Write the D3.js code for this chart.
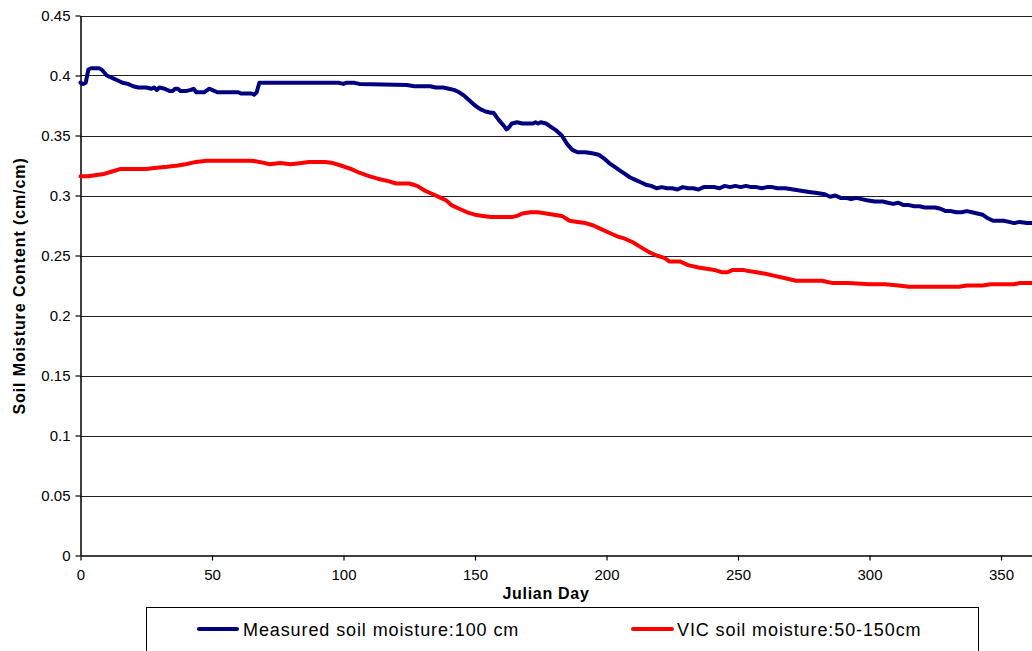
<!DOCTYPE html>
<html>
<head>
<meta charset="utf-8">
<script src="https://cdn.jsdelivr.net/npm/d3@7"></script>
<style>
  html, body { margin: 0; padding: 0; background: #fff; overflow: hidden; }
  svg { display: block; font-family: "Liberation Sans", Arial, sans-serif; }
</style>
</head>
<body>
<svg id="chart" width="1032" height="651"></svg>
<script>
// ---- Data ----
const measuredDays = [0,1,2,3,4,7,8,10,12,14,16,18,20,22,25,27,28,29,30,32,34,35,36,37,38,40,42,43,44,47,49,50,52,60,61,65,66,67,68,98,100,101,104,106,124,127,133,135,138,140,142,144,146,148,150,152,154,156,157,159,161,162,163,164,166,168,170,172,173,174,175,177,179,181,183,185,187,189,192,195,197,199,201,203,205,207,209,211,213,215,217,219,221,223,225,227,229,231,233,235,237,239,241,243,245,247,249,251,253,255,257,259,261,263,265,268,271,274,277,280,283,285,287,289,291,293,295,297,299,302,305,307,309,311,313,315,317,319,321,323,325,327,329,331,333,335,337,339,341,343,345,347,349,351,353,355,357,360,365];
const measuredValues = [0.394,0.393,0.394,0.405,0.406,0.406,0.405,0.400,0.398,0.396,0.394,0.393,0.391,0.390,0.390,0.389,0.390,0.388,0.390,0.389,0.387,0.387,0.389,0.389,0.387,0.387,0.388,0.389,0.386,0.386,0.389,0.388,0.386,0.386,0.385,0.385,0.384,0.386,0.394,0.394,0.393,0.394,0.394,0.393,0.392,0.391,0.391,0.390,0.390,0.389,0.388,0.386,0.383,0.379,0.375,0.372,0.370,0.369,0.369,0.363,0.358,0.355,0.357,0.360,0.361,0.360,0.360,0.360,0.361,0.360,0.361,0.360,0.357,0.354,0.350,0.343,0.338,0.336,0.336,0.335,0.334,0.331,0.327,0.324,0.321,0.318,0.315,0.313,0.311,0.309,0.308,0.306,0.307,0.306,0.306,0.305,0.307,0.306,0.306,0.305,0.307,0.307,0.307,0.306,0.308,0.307,0.308,0.307,0.308,0.307,0.307,0.306,0.307,0.307,0.306,0.306,0.305,0.304,0.303,0.302,0.301,0.299,0.300,0.298,0.298,0.297,0.298,0.297,0.296,0.295,0.295,0.294,0.293,0.294,0.292,0.292,0.291,0.291,0.290,0.290,0.290,0.289,0.287,0.287,0.286,0.286,0.287,0.286,0.285,0.284,0.281,0.279,0.279,0.279,0.278,0.277,0.278,0.277,0.277];

const vicDays = [0,3,6,9,12,15,25,28,33,37,40,44,48,65,68,72,76,80,84,87,93,96,99,103,106,110,113,117,120,125,128,131,134,137,139,141,144,147,150,153,156,159,164,166,168,171,174,177,180,183,186,189,192,195,198,201,204,207,210,213,216,219,222,224,228,231,235,238,241,244,246,248,252,254,257,260,264,268,272,276,282,286,292,300,306,311,315,334,337,343,346,355,357,365];
const vicValues = [0.316,0.316,0.317,0.318,0.320,0.322,0.322,0.323,0.324,0.325,0.326,0.328,0.329,0.329,0.328,0.326,0.327,0.326,0.327,0.328,0.328,0.327,0.325,0.322,0.319,0.316,0.314,0.312,0.310,0.310,0.308,0.304,0.301,0.298,0.296,0.292,0.289,0.286,0.284,0.283,0.282,0.282,0.282,0.283,0.285,0.286,0.286,0.285,0.284,0.283,0.279,0.278,0.277,0.275,0.272,0.269,0.266,0.264,0.261,0.257,0.253,0.250,0.248,0.245,0.245,0.242,0.240,0.239,0.238,0.236,0.236,0.238,0.238,0.237,0.236,0.235,0.233,0.231,0.229,0.229,0.229,0.227,0.227,0.226,0.226,0.225,0.224,0.224,0.225,0.225,0.226,0.226,0.227,0.227];

const xTicks = [0,50,100,150,200,250,300,350];
const yTicks = [0,0.05,0.1,0.15,0.2,0.25,0.3,0.35,0.4,0.45];
const seriesNames = ["Measured soil moisture:100 cm", "VIC soil moisture:50-150cm"];
const seriesColors = ["#000080", "#ff0000"];
const xTitle = "Julian Day";
const yTitle = "Soil Moisture Content (cm/cm)";

// ---- Layout ----
const svg = d3.select("#chart");
const plotLeft = 80.5, plotTop = 15.5, plotBottom = 555.5;
const x = d3.scaleLinear().domain([0, 365]).range([plotLeft, plotLeft + 365 * 2.63]);
const y = d3.scaleLinear().domain([0, 0.45]).range([plotBottom, plotTop]);
const plotRight = x(365);

// gridlines
svg.append("g")
  .selectAll("line").data(yTicks.filter(d => d > 0)).join("line")
  .attr("x1", plotLeft).attr("x2", plotRight)
  .attr("y1", d => Math.round(y(d)) + 0.5).attr("y2", d => Math.round(y(d)) + 0.5)
  .attr("stroke", "#222").attr("stroke-width", 1);

// axes
const xAxis = d3.axisBottom(x).tickValues(xTicks).tickFormat(d3.format("d")).tickSizeInner(5).tickSizeOuter(0).tickPadding(9);
const yAxis = d3.axisLeft(y).tickValues(yTicks).tickFormat(d => d === 0 ? "0" : String(d)).tickSizeInner(5).tickSizeOuter(0).tickPadding(5);

const gx = svg.append("g").attr("transform", `translate(0,${plotBottom})`).call(xAxis);
const gy = svg.append("g").attr("transform", `translate(${plotLeft},0)`).call(yAxis);
[gx, gy].forEach(g => {
  g.select(".domain").attr("stroke", "#000").attr("stroke-width", 1.5);
  g.selectAll(".tick line").attr("stroke", "#000").attr("stroke-width", 1.2);
  g.selectAll(".tick text").attr("font-size", 15).attr("fill", "#000")
    .attr("font-family", "'Liberation Sans', Arial, sans-serif");
});

// lines
const line = d3.line().x(d => x(d[0])).y(d => y(d[1])).curve(d3.curveLinear);
const measured = measuredDays.map((d, i) => [d, measuredValues[i]]);
const vic = vicDays.map((d, i) => [d, vicValues[i]]);

svg.append("path").datum(vic)
  .attr("fill", "none").attr("stroke", seriesColors[1]).attr("stroke-width", 4)
  .attr("stroke-linejoin", "round").attr("stroke-linecap", "round").attr("d", line);
svg.append("path").datum(measured)
  .attr("fill", "none").attr("stroke", seriesColors[0]).attr("stroke-width", 4)
  .attr("stroke-linejoin", "round").attr("stroke-linecap", "round").attr("d", line);

// axis titles
svg.append("text").attr("x", 546).attr("y", 599).attr("text-anchor", "middle")
  .attr("font-size", 16).attr("font-weight", "bold").attr("letter-spacing", 0.7).text(xTitle);
svg.append("text").attr("transform", "translate(25,286) rotate(-90)").attr("text-anchor", "middle")
  .attr("font-size", 16).attr("font-weight", "bold").attr("letter-spacing", 0.9).text(yTitle);

// legend
svg.append("rect").attr("x", 146.5).attr("y", 607.5).attr("width", 832).attr("height", 60)
  .attr("fill", "#fff").attr("stroke", "#000").attr("stroke-width", 1);
const legendItems = [
  { lx1: 199, lx2: 237, tx: 243 },
  { lx1: 633, lx2: 672, tx: 677 }
];
legendItems.forEach((it, i) => {
  svg.append("line").attr("x1", it.lx1).attr("x2", it.lx2).attr("y1", 629).attr("y2", 629)
    .attr("stroke", seriesColors[i]).attr("stroke-width", 4).attr("stroke-linecap", "round");
  svg.append("text").attr("x", it.tx).attr("y", 636).attr("font-size", 18).attr("letter-spacing", 0.9)
    .attr("fill", "#000").text(seriesNames[i]);
});
</script>
</body>
</html>
